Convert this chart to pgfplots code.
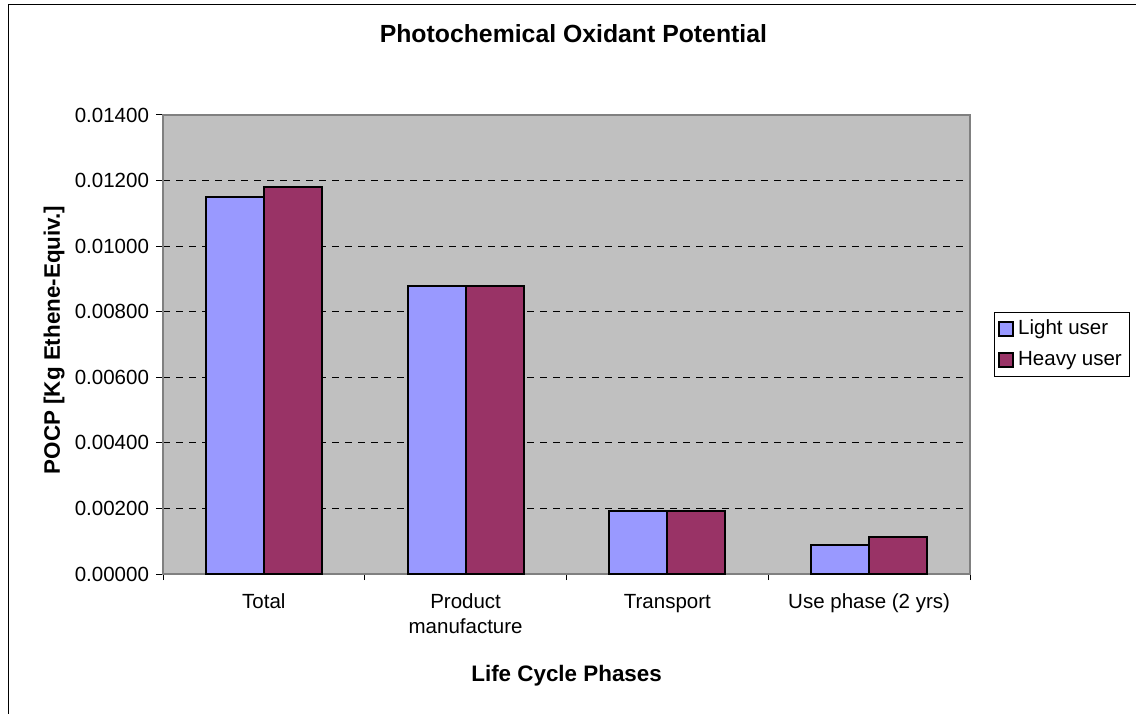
\documentclass[border=0pt]{standalone}
\usepackage{pgfplots}
\pgfplotsset{compat=1.18}
\usepackage{fontspec}
\setmainfont{Liberation Sans}
\definecolor{lightuser}{HTML}{9999FF}
\definecolor{heavyuser}{HTML}{993366}
\definecolor{plotbg}{HTML}{C0C0C0}
\definecolor{framegray}{HTML}{808080}

\begin{document}
\begin{tikzpicture}
\useasboundingbox (0,0) rectangle (568pt,356.5pt);
% outer chart frame
\draw[line width=0.5pt] (4pt,-10pt) rectangle (580pt,354pt);
\begin{axis}[
    at={(81.5pt,69.5pt)}, anchor=south west,
    scale only axis, width=403.5pt, height=229.5pt,
    font=\fontsize{10.25}{12.5}\selectfont,
    xmin=-0.5, xmax=3.5, ymin=0, ymax=0.014,
    axis background/.style={fill=plotbg},
    axis line style={framegray, line width=1pt},
    ybar=0pt, bar width=0.287,
    xtick={0,1,2,3},
    xticklabels={Total, Product\\manufacture, Transport, Use phase (2 yrs)},
    xticklabel style={align=center, yshift=-3pt},
    minor xtick={-0.5,0.5,1.5,2.5,3.5},
    major x tick style={draw=none},
    minor x tick style={black, line width=0.5pt},
    minor tick length=3pt,
    ytick={0,0.002,...,0.0141},
    ytick style={black, line width=0.5pt},
    major tick length=3.5pt,
    tick align=outside,
    tick pos=left,
    scaled y ticks=false,
    /pgf/number format/assume math mode=true,
    yticklabel style={/pgf/number format/.cd, fixed, fixed zerofill, precision=5},
    ymajorgrids,
    major y grid style={black, line width=0.5pt, dash pattern=on 3.5pt off 3pt},
    legend style={at={(1.114,0.5)}, anchor=center, draw=black, line width=0.5pt,
        font=\fontsize{10.25}{12.5}\selectfont, row sep=3pt,
        inner xsep=2pt, inner ysep=2pt},
    legend cell align=left,
]
\addplot[fill=lightuser, draw=black, line width=1pt,
    legend image code/.code={\draw[fill=lightuser, draw=black, line width=1pt] (0pt,-3.5pt) rectangle (7pt,3.5pt);}]
    coordinates {(0,0.01151) (1,0.00877) (2,0.00191) (3,0.00087)};
\addplot[fill=heavyuser, draw=black, line width=1pt,
    legend image code/.code={\draw[fill=heavyuser, draw=black, line width=1pt] (0pt,-3.5pt) rectangle (7pt,3.5pt);}]
    coordinates {(0,0.01179) (1,0.00877) (2,0.00191) (3,0.00112)};
\legend{Light user, Heavy user}
\end{axis}
\node[font=\fontsize{12.4}{14}\selectfont\bfseries, anchor=base] at (286.7pt,335.3pt) {Photochemical Oxidant Potential};
\node[font=\fontsize{11.2}{13}\selectfont\bfseries, anchor=base] at (283.3pt,15.7pt) {Life Cycle Phases};
\node[font=\fontsize{11.2}{13}\selectfont\bfseries, rotate=90, anchor=base] at (30pt,186.5pt) {POCP [Kg Ethene-Equiv.]};
\end{tikzpicture}
\end{document}
